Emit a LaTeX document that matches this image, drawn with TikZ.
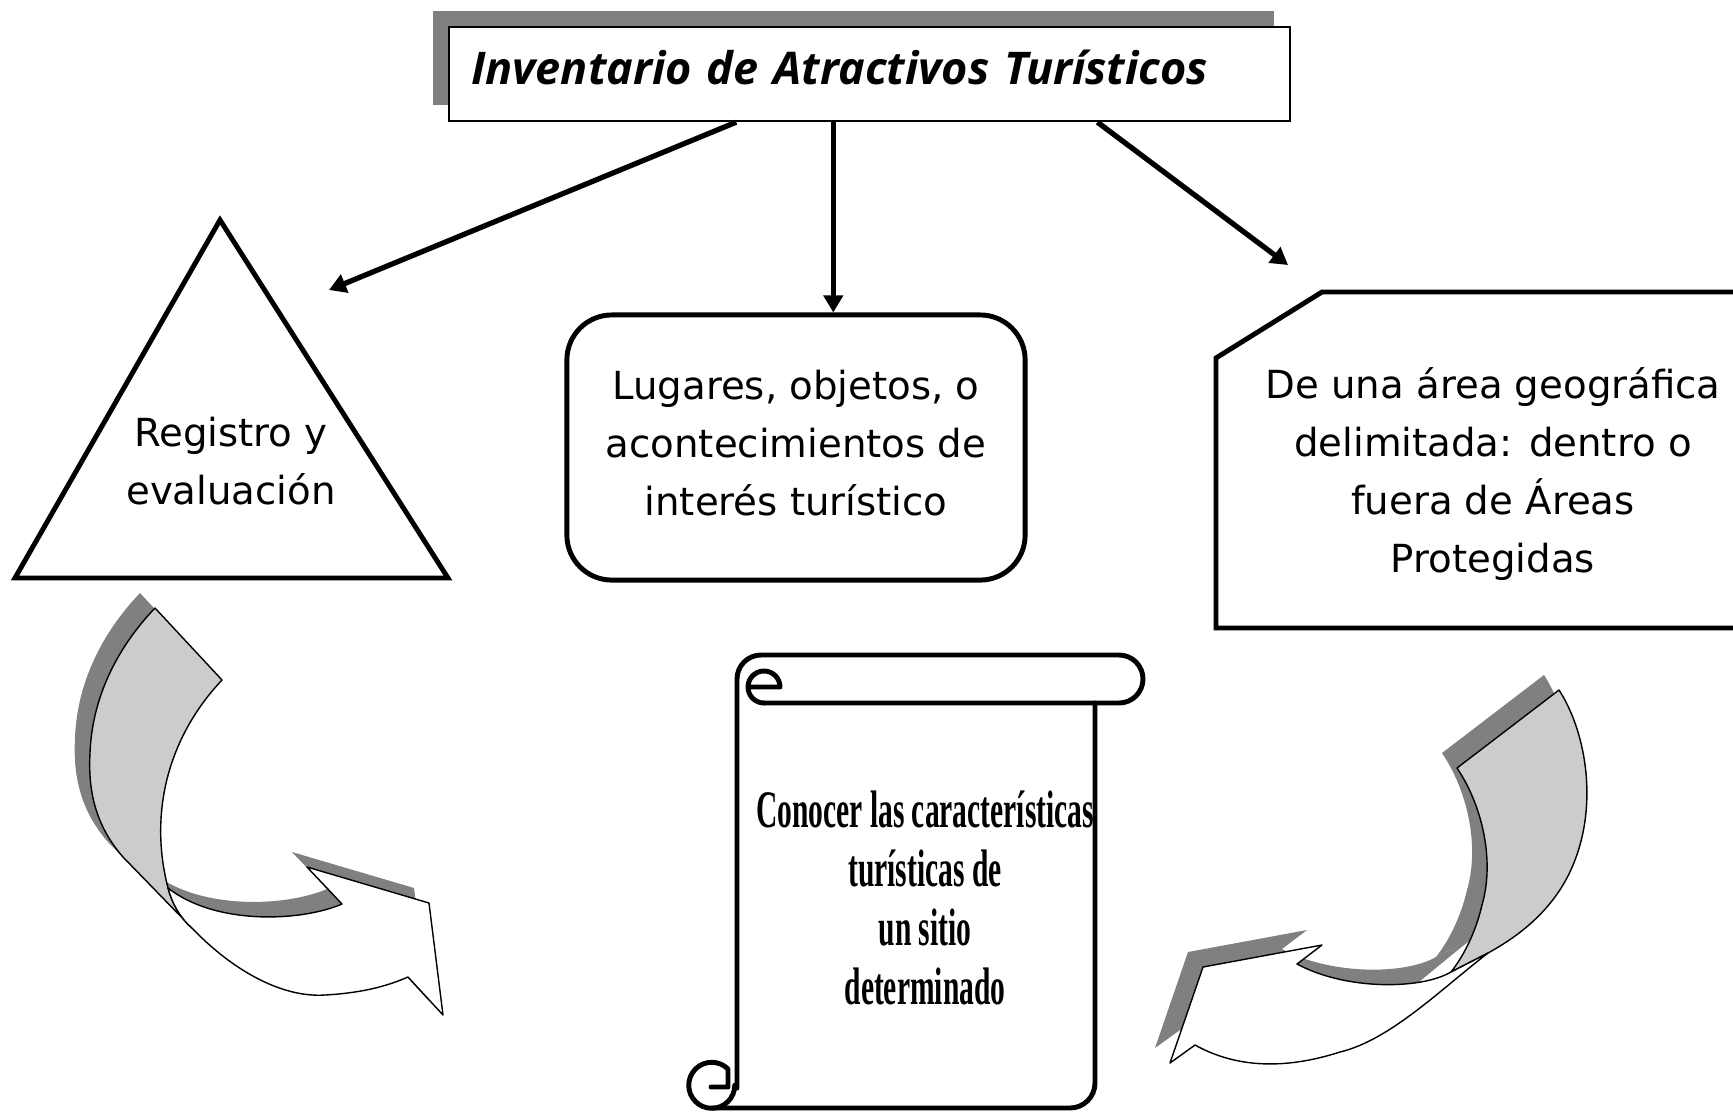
\documentclass[tikz,border=0pt]{standalone}
\usepackage{fontspec}
\setmainfont{DejaVu Sans}
\newfontfamily\titlefont{Open Sans}
\newfontfamily\scrollfont[FakeStretch=0.56]{Liberation Serif}
\usetikzlibrary{arrows.meta,shadows}
\definecolor{shadowgray}{RGB}{128,128,128}
\definecolor{backgray}{RGB}{204,204,204}

\begin{document}
\begin{tikzpicture}[x=0.01cm,y=-0.01cm,
		txt/.style={align=center,font=\fontsize{11}{16.5}\selectfont},
		thick line/.style={line width=1.4pt},
		arr/.style={line width=1.5pt,-{Triangle[length=0.17cm,width=0.19cm]}},
		face/.style={draw=black,line width=0.4pt,line join=round}]
		\useasboundingbox (0,0) rectangle (1733,1111);
		\def\lback{(155,608) -- (222,680) .. controls (170,735) and (148,810) .. (168,888)
			.. controls (172,903) and (180,918) .. (192,928) -- (123,857)
			.. controls (95,825) and (88,790) .. (90,753) .. controls (92,700) and (115,650) .. (155,608) -- cycle}
		\def\lfront{(168,888) .. controls (172,903) and (180,918) .. (192,928)
			.. controls (230,968) and (280,998) .. (325,995) .. controls (360,993) and (385,987) .. (408,977)
			-- (443,1015) -- (429,903) -- (307,867) -- (342,904) .. controls (300,922) and (215,925) .. (168,888) -- cycle}
		\def\rback{(1559,690) -- (1457,768) .. controls (1482,805) and (1495,860) .. (1482,905)
			.. controls (1475,935) and (1462,958) .. (1451,972) -- (1488,953)
			.. controls (1530,930) and (1560,900) .. (1575,860) .. controls (1598,800) and (1585,730) .. (1559,690) -- cycle}
		\def\rfront{(1451,972) -- (1488,953) .. controls (1440,990) and (1390,1040) .. (1340,1052)
			.. controls (1290,1068) and (1240,1070) .. (1195,1045) -- (1170,1063) -- (1203,967) -- (1322,945)
			-- (1297,964) .. controls (1345,990) and (1420,990) .. (1451,972) -- cycle}
		\node[draw,fill=white,line width=0.6pt,anchor=north west,inner xsep=0.22cm,inner ysep=0pt,
			text width=7.96cm,text height=0.57cm,text depth=0.37cm,align=left,
			general shadow={fill=shadowgray,shadow xshift=-0.16cm,shadow yshift=0.16cm},
			font=\titlefont\fontsize{12.8}{14}\selectfont\bfseries\itshape] (title) at (448,26)
		{Inventario de Atractivos Turísticos};
		\draw[thick line] (220,220) -- (448,578) -- (15,578) -- cycle;
		\node[txt] (reg) at (231,461) {Registro y\\evaluación};
		\node[txt,draw,thick line,rounded corners=0.45cm,minimum width=4.58cm,minimum height=2.65cm,text depth=0.1cm]
		(lug) at (796,447.5) {Lugares, objetos, o\\acontecimientos de\\interés turístico};
		\draw[thick line] (1216,358) -- (1322,292) -- (1760,292) -- (1760,628) -- (1216,628) -- cycle;
		\node[txt] (area) at (1493,474) {De una área geográfica\\delimitada: dentro o\\fuera de Áreas\\Protegidas};
		\coordinate (regtip) at (329,290);
		\coordinate (areatip) at (1288,265);
		\draw[arr] ([xshift=-1.33cm]title.south) -- (regtip);
		\draw[arr] ([xshift=-0.36cm]title.south) -- ([xshift=-0.36cm]title.south |- lug.north);
		\draw[arr] ([xshift=2.28cm]title.south) -- (areatip);
		\begin{scope}[thick line,line cap=round,line join=round]
			\draw[rounded corners=0.24cm] (737,1088) -- (737,655) -- (1143,655) -- (1143,703) -- (764,703);
			\draw[rounded corners=0.25cm] (1095,703) -- (1095,1108) -- (712,1108);
			\draw (764,703) arc[start angle=90,end angle=360,radius=16] -- (750,687);
			\draw (711,1087) -- (728,1087) -- (728,1069) arc[start angle=-45,end angle=-360,radius=23];
		\end{scope}
		\node[align=center,font=\scrollfont\bfseries\fontsize{15}{16.8}\selectfont] (scroll) at (925,898)
		{Conocer las características\\turísticas de\\un sitio\\determinado};
		\fill[shadowgray,shift={(-15,-15)}] \lback;
		\fill[shadowgray,shift={(-15,-15)}] \lfront;
		\fill[shadowgray,shift={(-15,-15)}] \rback;
		\fill[shadowgray,shift={(-15,-15)}] \rfront;
		\path[face,fill=backgray] \lback;
		\path[face,fill=white] \lfront;
		\path[face,fill=backgray] \rback;
		\path[face,fill=white] \rfront;
	\end{tikzpicture}
\end{document}
